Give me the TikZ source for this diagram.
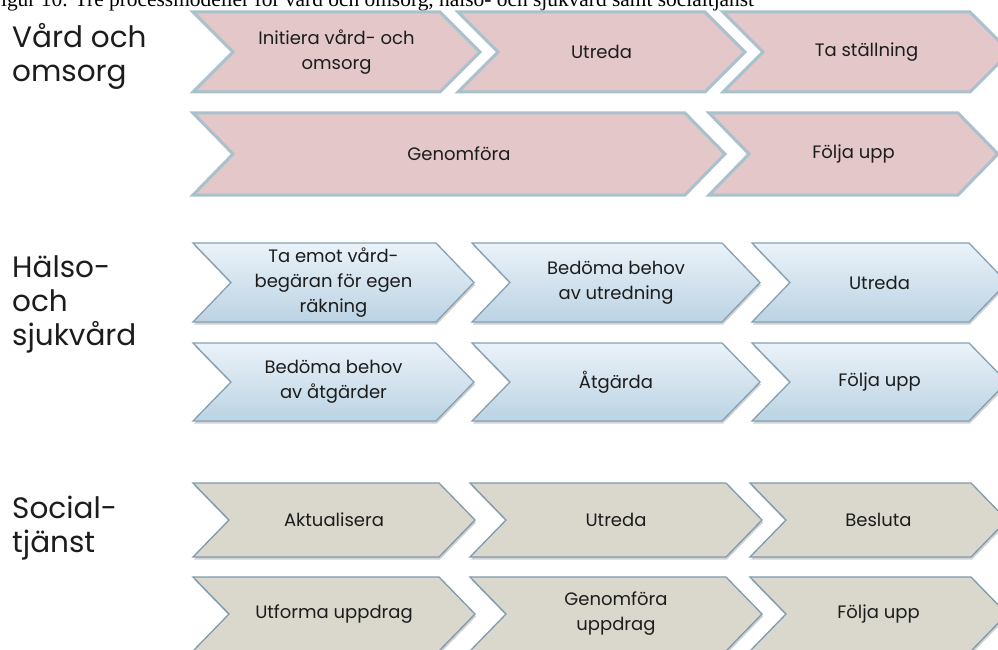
\documentclass[tikz,border=0pt]{standalone}
\usepackage{fontspec}
\setmainfont{Poppins}
\newfontfamily\captionfont{Liberation Serif}
\usetikzlibrary{shadows}

\definecolor{pinkfill}{HTML}{E3C7C9}
\definecolor{pinkline}{HTML}{A9C1CC}
\definecolor{bluetop}{HTML}{EBF2F9}
\definecolor{bluebot}{HTML}{BBD3E3}
\definecolor{blueline}{HTML}{86A0B3}
\definecolor{sandfill}{HTML}{DAD8CC}
\definecolor{sandline}{HTML}{7F9AAE}
\definecolor{inktext}{HTML}{1C1C1C}

% #1 style, #2 node name, #3 left x, #4 tip x, #5 top y, #6 bottom y, #7 point depth, #8 label
\newcommand\chevron[8]{%
  \path[#1] (#3,#5) -- ({#4-#7},#5) -- (#4,{(#5+#6)/2}) -- ({#4-#7},#6)
        -- (#3,#6) -- ({#3+#7},{(#5+#6)/2}) -- cycle;
  \node[steptext] (#2) at ({(#3+#4)/2},{(#5+#6)/2}) {#8};
}

\tikzset{
  steptext/.style={align=center, inner sep=0pt, text=inktext,
    font=\fontsize{18}{25}\selectfont},
  rowlabel/.style={align=left, anchor=north west, inner sep=0pt, text=inktext,
    font=\fontsize{29.5}{34}\selectfont},
  carepath/.style={draw=pinkline, line width=3pt, fill=pinkfill, line join=miter},
  healthpath/.style={draw=blueline, line width=1.3pt, top color=bluetop,
    bottom color=bluebot, line join=miter,
    drop shadow={shadow xshift=1pt, shadow yshift=-2.5pt, opacity=0.3, fill=black!60}},
  socialpath/.style={draw=sandline, line width=1.3pt, fill=sandfill, line join=miter,
    drop shadow={shadow xshift=1pt, shadow yshift=-2.5pt, opacity=0.3, fill=black!60}},
}

\begin{document}
\begin{tikzpicture}[x=1pt,y=-1pt]
\useasboundingbox (0,0) rectangle (998,650);
\clip (0,0) rectangle (998,650);

% caption, cut by the top edge
\node[anchor=base west, inner sep=0pt, font=\captionfont\fontsize{21.4}{26}\selectfont]
  (caption) at (-11,7) {Figur 10. Tre processmodeller för vård och omsorg, hälso- och sjukvård samt socialtjänst};

% row headings
\node[rowlabel] (care)   at (12,23)  {Vård och\\omsorg};
\node[rowlabel] (health) at (12,255) {Hälso-\\och\\sjukvård};
\node[rowlabel] (social) at (12,496) {Social-\\tjänst};

% Vård och omsorg
\chevron{carepath}{c1}{193}{480}{12}{92}{40}{Initiera vård- och\\omsorg}
\chevron{carepath}{c2}{458}{745}{12}{92}{40}{Utreda}
\chevron{carepath}{c3}{723}{1010}{12}{92}{40}{Ta ställning}
\chevron{carepath}{c4}{193}{725}{113}{195}{40}{Genomföra}
\chevron{carepath}{c5}{709}{998}{113}{195}{40}{Följa upp}

% Hälso- och sjukvård
\chevron{healthpath}{h1}{193}{474}{243}{322}{38}{Ta emot vård-\\begäran för egen\\räkning}
\chevron{healthpath}{h2}{472}{760}{243}{322}{38}{Bedöma behov\\av utredning}
\chevron{healthpath}{h3}{752}{1007}{243}{322}{38}{Utreda}
\chevron{healthpath}{h4}{193}{474}{343}{421}{38}{Bedöma behov\\av åtgärder}
\chevron{healthpath}{h5}{472}{760}{343}{421}{38}{Åtgärda}
\chevron{healthpath}{h6}{752}{1007}{343}{421}{38}{Följa upp}

% Socialtjänst
\chevron{socialpath}{s1}{193}{475}{483}{557}{36}{Aktualisera}
\chevron{socialpath}{s2}{470}{762}{483}{557}{36}{Utreda}
\chevron{socialpath}{s3}{750}{1007}{483}{557}{36}{Besluta}
\chevron{socialpath}{s4}{193}{475}{577}{651}{36}{Utforma uppdrag}
\chevron{socialpath}{s5}{470}{762}{577}{651}{36}{Genomföra\\uppdrag}
\chevron{socialpath}{s6}{750}{1007}{577}{651}{36}{Följa upp}
\end{tikzpicture}
\end{document}
